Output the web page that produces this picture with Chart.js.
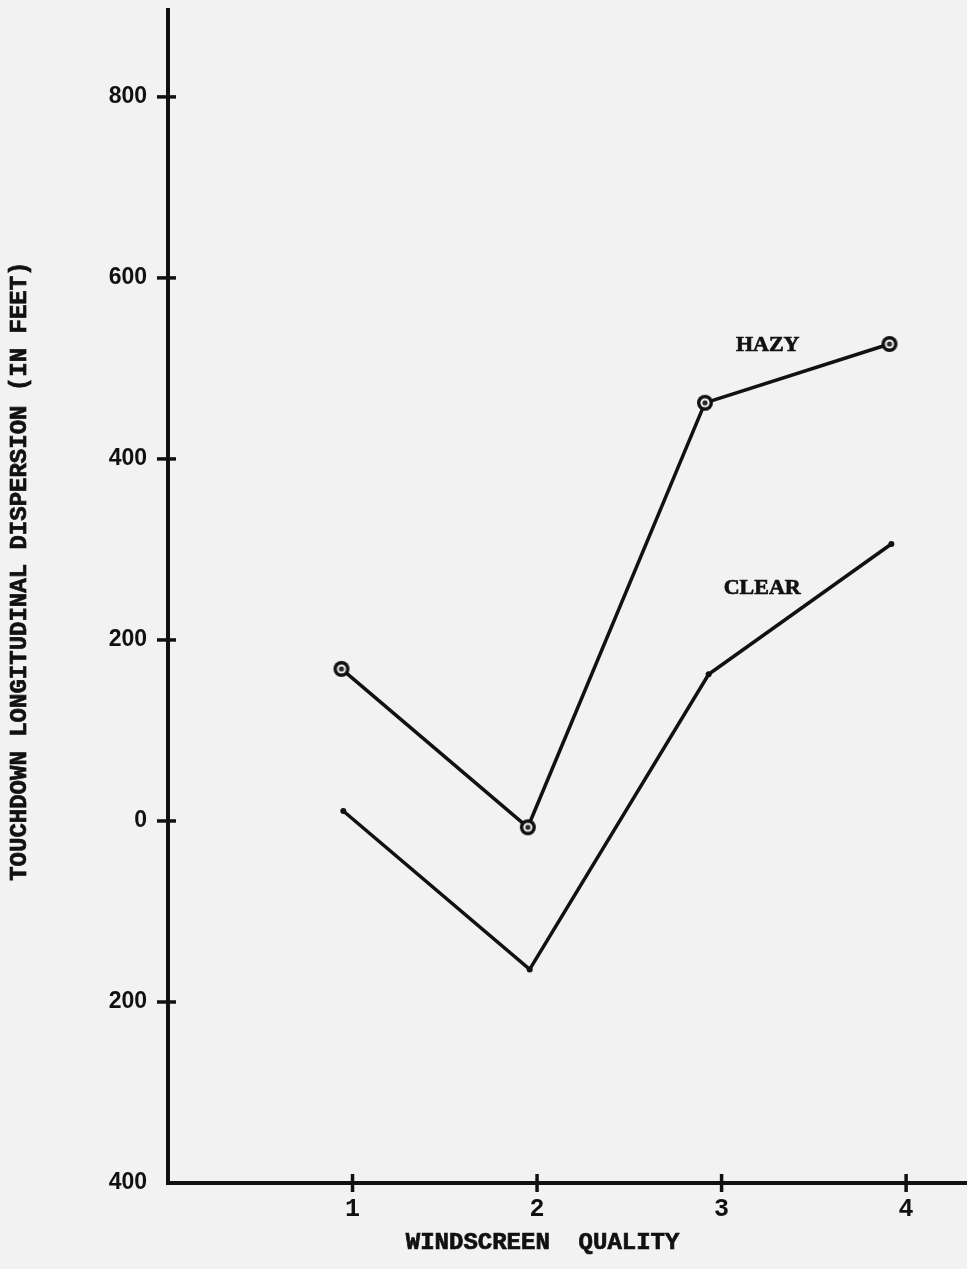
<!DOCTYPE html>
<html>
<head>
<meta charset="utf-8">
<script src="https://cdn.jsdelivr.net/npm/chart.js@4.4.1/dist/chart.umd.min.js"></script>
<style>
  html, body { margin: 0; padding: 0; overflow: hidden; background: #f2f2f2; }
  .wrap { width: 967px; height: 1269px; }
  canvas { display: block; }
</style>
</head>
<body>
<div class="wrap"><canvas id="chart"></canvas></div>
<script>
// DATA
const xTicks = [1, 2, 3, 4];
const yTicks = [800, 600, 400, 200, 0, -200, -400];
const hazyX = [0.94, 1.95, 2.91, 3.91];
const hazyY = [168, -7, 462, 527];
const clearX = [0.95, 1.96, 2.93, 3.92];
const clearY = [11, -164, 162, 306];
const seriesNames = ['HAZY', 'CLEAR'];
const namePlaces = [[3.25, 525], [3.22, 257]];

const ink = '#111';
const paper = '#f2f2f2';

// ringed marker for the hazy curve
const ring = document.createElement('canvas');
ring.width = ring.height = 20;
{
  const g = ring.getContext('2d');
  const dot = (r, c) => { g.beginPath(); g.arc(10, 10, r, 0, Math.PI * 2); g.fillStyle = c; g.fill(); };
  dot(8, ink);
  dot(4.6, paper);
  dot(2.6, '#2a2a2a');
}

// ticks crossing the axes, curve names, axis titles
const paperMarks = {
  id: 'paperMarks',
  afterDraw(chart) {
    const { ctx, chartArea: a, scales: { x, y } } = chart;
    ctx.save();
    ctx.strokeStyle = ink;
    ctx.lineWidth = 3.5;
    yTicks.filter(v => v > y.min).forEach(v => {
      const py = y.getPixelForValue(v);
      ctx.beginPath(); ctx.moveTo(a.left - 11, py); ctx.lineTo(a.left + 8, py); ctx.stroke();
    });
    xTicks.forEach(v => {
      const px = x.getPixelForValue(v);
      ctx.beginPath(); ctx.moveTo(px, a.bottom - 9); ctx.lineTo(px, a.bottom + 9); ctx.stroke();
    });

    ctx.fillStyle = ink;
    ctx.lineWidth = 0.7;
    ctx.textAlign = 'center';
    ctx.textBaseline = 'middle';
    ctx.font = 'bold 22px "Liberation Serif"';
    seriesNames.forEach((n, i) => {
      const px = x.getPixelForValue(namePlaces[i][0]);
      const py = y.getPixelForValue(namePlaces[i][1]);
      ctx.fillText(n, px, py);
      ctx.strokeText(n, px, py);
    });

    ctx.font = 'bold 24px "Liberation Mono"';
    const xt = 'WINDSCREEN  QUALITY';
    ctx.fillText(xt, x.getPixelForValue(2.03), a.bottom + 60);
    ctx.strokeText(xt, x.getPixelForValue(2.03), a.bottom + 60);
    const yt = 'TOUCHDOWN LONGITUDINAL DISPERSION (IN FEET)';
    ctx.translate(20, y.getPixelForValue(276));
    ctx.rotate(-Math.PI / 2);
    ctx.fillText(yt, 0, 0);
    ctx.strokeText(yt, 0, 0);
    ctx.restore();
  }
};

const ctx = document.querySelector('#chart');
const myChart = new Chart(ctx, {
  type: 'line',
  data: {
    datasets: [
      {
        label: 'HAZY',
        data: hazyX.map((x, i) => ({ x, y: hazyY[i] })),
        borderColor: ink,
        borderWidth: 3.5,
        pointStyle: ring,
        pointRadius: 8,
      },
      {
        label: 'CLEAR',
        data: clearX.map((x, i) => ({ x, y: clearY[i] })),
        borderColor: ink,
        borderWidth: 3.5,
        pointStyle: 'circle',
        pointRadius: 3,
        pointBorderWidth: 0,
        pointBackgroundColor: ink,
      },
    ],
  },
  options: {
    responsive: true,
    maintainAspectRatio: false,
    animation: false,
    layout: { autoPadding: false, padding: { top: 10, right: 0, left: 0, bottom: 0 } },
    plugins: { legend: { display: false }, tooltip: { enabled: false } },
    scales: {
      x: {
        type: 'linear',
        min: 0,
        max: 4.33,
        grid: { display: false, drawTicks: false },
        border: { color: ink, width: 4 },
        ticks: { color: ink, padding: 12, font: { family: 'Liberation Mono', weight: 'bold', size: 25 } },
        afterBuildTicks: s => { s.ticks = xTicks.map(v => ({ value: v })); },
        afterFit: s => { s.height = 86; s.paddingLeft = 0; s.paddingRight = 0; },
      },
      y: {
        min: -400,
        max: 896,
        grid: { display: false, drawTicks: false },
        border: { color: ink, width: 4 },
        ticks: {
          color: ink,
          padding: 21,
          font: { family: 'Liberation Sans', weight: 'bold', size: 23 },
          callback: v => Math.abs(v),
        },
        afterBuildTicks: s => { s.ticks = yTicks.map(v => ({ value: v })); },
        afterFit: s => { s.width = 168; s.paddingTop = 0; s.paddingBottom = 0; },
      },
    },
  },
  plugins: [paperMarks],
});
</script>
</body>
</html>
